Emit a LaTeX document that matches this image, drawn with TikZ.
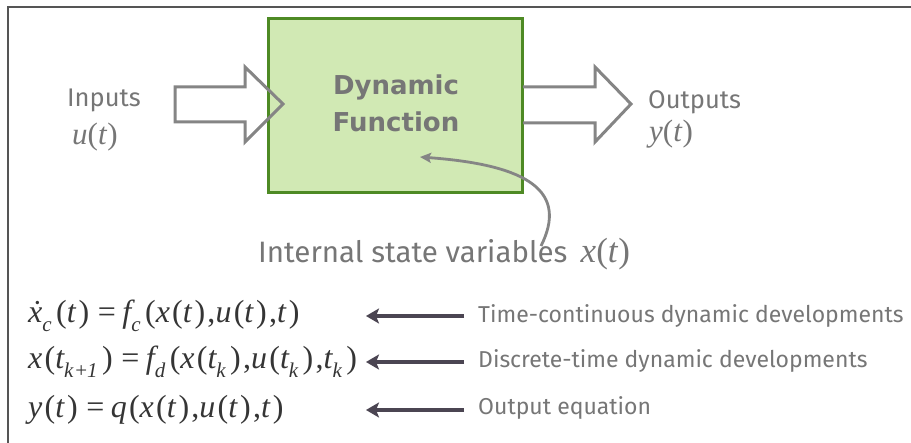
\documentclass[tikz,border=0pt]{standalone}
\usepackage{fontspec}
\setmainfont{Liberation Serif}
\newfontfamily\labfont{Fira Sans}
\newfontfamily\boldfont{DejaVu Sans}
\newfontfamily\eqfont[LetterSpace=7]{Liberation Serif}
\usetikzlibrary{arrows.meta}
\definecolor{txtgray}{HTML}{767676}
\definecolor{boxfill}{HTML}{D1E9B4}
\definecolor{boxline}{HTML}{4E8A24}
\definecolor{arrgray}{HTML}{858585}
\definecolor{eqarrow}{HTML}{4B4552}
\definecolor{eqtext}{HTML}{353535}
\definecolor{frame}{HTML}{555555}
\newcommand\lsub[1]{\raisebox{-0.3em}{\fontsize{21}{21}\selectfont\itshape #1}\hspace{4.5pt}}
\newcommand\lp{\textup{(}}
\newcommand\rp{\textup{)}}
\newcommand\eqsign{\hspace{0.2em}\textup{=}\hspace{0.2em}}
\newcommand\cm{\textup{,}}
\tikzset{
  lab/.style={font=\labfont\fontsize{23}{26}\selectfont, text=txtgray, inner sep=0pt},
  side/.style={font=\labfont\fontsize{25.5}{28}\selectfont, text=txtgray, inner sep=0pt, align=left},
  varlab/.style={font=\itshape\fontsize{31}{32}\selectfont, text=txtgray, inner sep=0pt},
  eq/.style={font=\eqfont\itshape\fontsize{32}{34}\selectfont, text=eqtext, inner sep=0pt, anchor=west},
  eqarr/.style={draw=eqarrow, line width=3.5pt, -{Stealth[length=13pt,width=15pt,inset=3pt]}},
  blockarr/.style={draw=arrgray, line width=3pt, line join=miter},
}
\begin{document}
\begin{tikzpicture}[x=1pt,y=-1pt]
\useasboundingbox (0,0) rectangle (911,443);
\fill[white] (0,0) rectangle (911,443);
\draw[frame, line width=1.6pt] (8,7) rectangle (930,460);

% main block
\node (fn) [draw=boxline, fill=boxfill, line width=3pt, minimum width=254pt, minimum height=174pt, inner sep=0pt] at (395.5,105.5) {};
\node (fntext) [font=\boldfont\bfseries\fontsize{26}{37}\selectfont, text=txtgray, align=center] at (396,103) {Dynamic\\Function};

% input block arrow
\draw[blockarr] (175,87) -- (245,87) -- (245,67) -- (283,104) -- (245,142) -- (245,122) -- (175,122) -- cycle;
% output block arrow
\draw[blockarr] (523,87) -- (595,87) -- (595,67) -- (631,104) -- (595,142) -- (595,123) -- (523,123);

\node (inp) [side, anchor=west] at (67,100) {Inputs};
\node (inpu) [varlab, anchor=west] at (72,137) {u\lp t\rp};
\node (outp) [side, anchor=west] at (648,102) {Outputs};
\node (outy) [varlab, anchor=west] at (649,134) {y\lp t\rp};

% internal state
\node (isv) [font=\labfont\fontsize{29.5}{32}\selectfont, text=txtgray, inner sep=0pt, anchor=west] at (258,254) {Internal state variables\hspace{0.45em}\fontsize{35}{35}\selectfont\rmfamily\itshape x\lp t\rp};
\coordinate (cs) at (541,246);
\coordinate (ce) at (420,157);
\draw[draw=arrgray, line width=2.8pt, -{Stealth[length=11pt,width=10pt,inset=2pt]}] (cs) .. controls (568,192) and (530,165) .. (ce);

% equations
\node (eq1) [eq] at (28,316) {\.x\lsub{c}\lp t\rp\eqsign f\lsub{c}\lp x\lp t\rp\cm u\lp t\rp\cm t\rp};
\node (eq2) [eq] at (28,362) {x\lp t\lsub{k\textup{+}1}\rp\eqsign f\lsub{d}\lp x\lp t\lsub{k}\rp\cm u\lp t\lsub{k}\rp\cm t\lsub{k}\rp};
\node (eq3) [eq] at (28,410) {y\lp t\rp\eqsign q\lp x\lp t\rp\cm u\lp t\rp\cm t\rp};

\node (l1) [lab, anchor=west] at (478,316) {Time-continuous dynamic developments};
\node (l2) [lab, anchor=west] at (478,361) {Discrete-time dynamic developments};
\node (l3) [lab, anchor=west] at (478,408) {Output equation};

\coordinate (a1s) at (464,316); \coordinate (a1e) at (366,316);
\coordinate (a2s) at (464,362); \coordinate (a2e) at (366,362);
\coordinate (a3s) at (464,410); \coordinate (a3e) at (366,410);
\draw[eqarr] (a1s) -- (a1e);
\draw[eqarr] (a2s) -- (a2e);
\draw[eqarr] (a3s) -- (a3e);
\end{tikzpicture}
\end{document}
